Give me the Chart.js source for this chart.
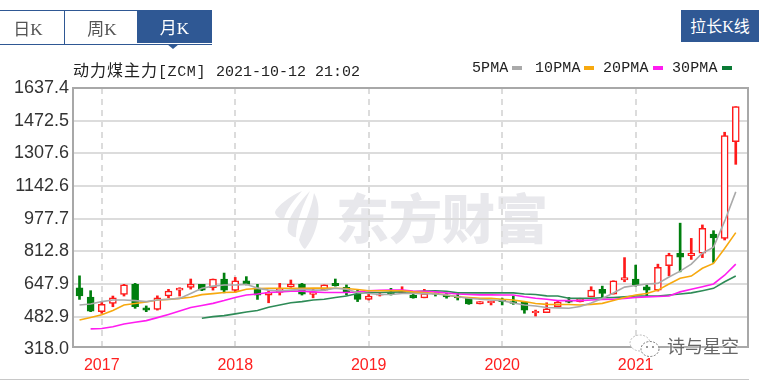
<!DOCTYPE html>
<html>
<head>
<meta charset="utf-8">
<title>动力煤主力</title>
<script src="https://cdn.jsdelivr.net/npm/chart.js@4"></script>
<style>
    html, body { margin: 0; padding: 0; background: #fff; }
    #wrap { position: relative; width: 765px; height: 380px; overflow: hidden; font-family: "Noto Sans CJK SC", sans-serif; }
    #wrap div, #wrap span.abs { position: absolute; }
    #chart { position: absolute; left: 0; top: 0; }
    .tab { top: 11px; height: 32px; line-height: 34px; text-align: center; font-size: 17px; color: #555; }
    .tab i, .btn i { font-style: normal; font-family: "Liberation Serif", serif; }
    .line { background: #2f5894; }
    .mono { font-family: "Liberation Mono", monospace; }
    .lg { top: 60px; font-size: 15px; line-height: 18px; color: #222; white-space: nowrap; letter-spacing: 0.1px; }
    .sw { top: 66px; width: 10px; height: 4px; }
</style>
</head>
<body>
<div id="wrap">
    <div id="mark" style="left:336px;top:178px;font-size:53px;line-height:76px;font-weight:900;color:#e8e8ec;white-space:nowrap;">东方财富</div>
    <svg style="position:absolute;left:272px;top:188px;" width="58" height="62" viewBox="0 0 58 62">
        <path d="M30 3 C18 8 5 18 3 24 C3 28 8 31 12 31 C14 22 22 12 30 3 Z" fill="#e8e8ec"/>
        <path d="M38 3 C24 18 14 32 16 44 C18 47 22 50 24 49 C24 32 32 16 38 3 Z" fill="#e8e8ec"/>
        <path d="M42 5 C40 20 30 40 27 52 C29 57 31 60 33 61 C44 48 52 22 42 5 Z" fill="#e8e8ec"/>
    </svg>
    <canvas id="chart" width="765" height="380"></canvas>

    <div class="line" style="left:0;top:10px;width:212px;height:1px;"></div>
    <div class="line" style="left:0;top:44px;width:212px;height:1px;"></div>
    <div class="line" style="left:64px;top:10px;width:1px;height:34px;"></div>
    <div class="tab" style="left:0;width:56px;">日<i>K</i></div>
    <div class="tab" style="left:65px;width:74px;">周<i>K</i></div>
    <div class="tab" style="left:137px;top:10px;width:75px;height:33px;background:#2f5894;color:#fff;">月<i>K</i></div>
    <div style="left:167px;top:44px;width:0;height:0;border-left:6px solid transparent;border-right:6px solid transparent;border-top:5px solid #2f5894;"></div>
    <div class="btn" style="left:681px;top:10px;width:78px;height:32px;line-height:31px;background:#2f5894;color:#fff;text-align:center;font-size:16px;">拉长<i>K</i>线</div>

    <div style="left:73px;top:59px;font-size:16px;letter-spacing:1px;line-height:20px;color:#222;white-space:nowrap;">动力煤主力<span class="mono" style="font-size:15px;letter-spacing:0.6px;">[ZCM]</span><span class="mono" style="font-size:15px;letter-spacing:0;margin-left:10px;">2021-10-12 21:02</span></div>

    <div class="lg mono" style="left:472px;">5PMA</div>
    <div class="sw" style="left:512px;background:#aaaaaa;"></div>
    <div class="lg mono" style="left:535px;">10PMA</div>
    <div class="sw" style="left:584px;background:#f7a90f;"></div>
    <div class="lg mono" style="left:603px;">20PMA</div>
    <div class="sw" style="left:653px;background:#ff1cf0;"></div>
    <div class="lg mono" style="left:672px;">30PMA</div>
    <div class="sw" style="left:722px;background:#0a7a35;"></div>

    <svg style="position:absolute;left:628px;top:333px;" width="34" height="26" viewBox="0 0 34 26">
        <ellipse cx="12" cy="10" rx="10" ry="8" fill="#fff" stroke="#bbb" stroke-dasharray="2 1.5"/>
        <ellipse cx="22" cy="16" rx="9" ry="7.5" fill="#fff" stroke="#777" stroke-dasharray="2 1.5"/>
        <circle cx="19" cy="14" r="1" fill="#777"/><circle cx="25" cy="14" r="1" fill="#777"/>
    </svg>
    <div style="left:667px;top:332px;font-size:18px;line-height:26px;color:#666;white-space:nowrap;text-shadow:0 0 2px #fff;">诗与星空</div>

    <div style="left:0;top:379px;width:749px;height:1px;background:#c8c8c8;"></div>
</div>

<script>
const yearPositions = [2, 14, 26, 38, 50];
const yearLabels = ['2017', '2018', '2019', '2020', '2021'];
const yTicks = [318.0, 482.9, 647.9, 812.8, 977.7, 1142.6, 1307.6, 1472.5, 1637.4];

// monthly candles, Nov 2016 .. Oct 2021
const opens = [629, 582, 508, 550, 595, 646, 528, 520, 587, 617, 631, 646, 629, 673, 615,
    664, 621, 592, 605, 634, 648, 595, 617, 651, 631, 597, 570, 592, 607, 605,
    592, 578, 602, 592, 587, 575, 547, 553, 569, 559, 556, 503, 503, 533, 564,
    559, 583, 621, 597, 668, 673, 634, 617, 740, 803, 791, 803, 900, 878, 1366];
const closes = [587, 511, 545, 578, 643, 533, 516, 578, 612, 627, 648, 617, 672, 617, 664,
    646, 592, 605, 626, 648, 597, 608, 643, 639, 605, 570, 587, 597, 597, 617,
    578, 600, 597, 583, 578, 547, 559, 561, 559, 550, 516, 510, 523, 557, 556,
    575, 617, 600, 664, 680, 643, 617, 732, 794, 783, 803, 929, 881, 1397, 1543];
const highs = [689, 614, 559, 587, 646, 651, 537, 588, 621, 629, 673, 646, 673, 703, 681,
    685, 646, 614, 651, 668, 651, 626, 643, 673, 643, 617, 600, 600, 626, 634,
    602, 621, 603, 602, 600, 580, 559, 561, 576, 587, 557, 516, 553, 561, 580,
    576, 634, 637, 664, 781, 743, 643, 748, 803, 955, 878, 946, 917, 1414, 1543];
const lows = [570, 508, 500, 533, 587, 525, 508, 516, 578, 587, 622, 614, 617, 603, 607,
    643, 570, 553, 592, 631, 592, 578, 614, 637, 592, 559, 567, 587, 592, 600,
    576, 578, 587, 576, 567, 545, 547, 542, 542, 545, 500, 486, 503, 532, 553,
    557, 583, 580, 597, 659, 637, 587, 612, 689, 709, 772, 781, 757, 870, 1252];

const ma5 = [542, 547, 559, 567, 567, 564, 559, 567, 571, 575, 600, 626, 637, 643, 643,
    646, 627, 617, 614, 617, 621, 617, 617, 626, 621, 605, 600, 595, 595, 600,
    600, 599, 597, 592, 583, 576, 571, 567, 564, 552, 542, 537, 529, 527, 525,
    534, 552, 575, 602, 632, 640, 648, 651, 683, 713, 748, 803, 834, 965, 1113];
const ma10 = [466, 479, 492, 514, 542, 549, 557, 567, 570, 575, 581, 594, 599, 605, 607,
    621, 625, 626, 626, 626, 626, 627, 627, 626, 625, 620, 614, 614, 614, 614,
    608, 604, 600, 592, 583, 579, 576, 575, 571, 567, 559, 549, 545, 544, 544,
    542, 545, 550, 564, 580, 592, 600, 617, 648, 677, 688, 727, 752, 827, 907];
const ma20 = [null, 421, 423, 432, 446, 455, 463, 478, 494, 511, 529, 539, 550, 564, 580,
    592, 597, 605, 608, 612, 612, 608, 605, 605, 605, 608, 614, 616, 617, 617,
    612, 611, 608, 602, 597, 595, 593, 593, 592, 592, 583, 576, 571, 564, 564,
    564, 567, 570, 571, 575, 580, 583, 585, 587, 608, 621, 634, 648, 692, 748];
const ma30 = [null, null, null, null, null, null, null, null, null, null, null, 475, 483, 488, 497,
    506, 514, 530, 542, 553, 559, 567, 571, 580, 587, 600, 605, 605, 607, 608,
    608, 612, 614, 611, 603, 603, 603, 603, 603, 603, 597, 595, 588, 587, 576,
    575, 576, 578, 580, 583, 587, 587, 587, 592, 597, 603, 614, 626, 659, 688];

const upColor = '#ff1a1a';
const downColor = '#007f0e';
const isUp = i => closes[i] >= opens[i];

function toLine(values) {
    return values.map((v, i) => ({ x: i, y: v }));
}

function lineDataset(label, values, color) {
    return {
        type: 'line',
        label: label,
        data: toLine(values),
        borderColor: color,
        borderWidth: 1.6,
        pointRadius: 0,
        tension: 0,
        order: 1
    };
}

const plotFrame = {
    id: 'plotFrame',
    afterDatasetsDraw(chart) {
        const a = chart.chartArea;
        const ctx = chart.ctx;
        ctx.save();
        ctx.strokeStyle = '#a8a8a8';
        ctx.lineWidth = 2;
        ctx.strokeRect(a.left, a.top, a.right - a.left, a.bottom - a.top);
        ctx.restore();
    }
};

new Chart(document.getElementById('chart'), {
    type: 'bar',
    data: {
        datasets: [
            lineDataset('5PMA', ma5, '#aaaaaa'),
            lineDataset('10PMA', ma10, '#f7a90f'),
            lineDataset('20PMA', ma20, '#ff1cf0'),
            lineDataset('30PMA', ma30, '#2e8b57'),
            {
                label: 'body',
                data: opens.map((o, i) => ({ x: i, y: [o, closes[i]] })),
                barThickness: 7,
                grouped: false,
                borderSkipped: false,
                borderWidth: 1.5,
                borderColor: ctx => isUp(ctx.dataIndex) ? upColor : downColor,
                backgroundColor: ctx => isUp(ctx.dataIndex) ? '#ffffff' : downColor,
                order: 2
            },
            {
                label: 'wick',
                data: lows.map((l, i) => ({ x: i, y: [l, highs[i]] })),
                barThickness: 2,
                grouped: false,
                borderWidth: 0,
                backgroundColor: ctx => isUp(ctx.dataIndex) ? upColor : downColor,
                order: 3
            }
        ]
    },
    options: {
        responsive: false,
        animation: false,
        layout: { autoPadding: false, padding: { top: 88, right: 17, left: 0, bottom: 0 } },
        plugins: { legend: { display: false }, tooltip: { enabled: false } },
        scales: {
            x: {
                type: 'linear',
                offset: false,
                min: -0.585,
                max: 60.1,
                afterBuildTicks: scale => { scale.ticks = yearPositions.map(v => ({ value: v })); },
                afterFit: scale => { scale.height = 33; },
                grid: {
                    offset: false,
                    color: '#dcdcdc',
                    lineWidth: 2,
                    drawTicks: false
                },
                border: { display: false, dash: [6, 5] },
                ticks: {
                    autoSkip: false,
                    maxRotation: 0,
                    padding: 9,
                    color: '#ff2020',
                    font: { family: '"Liberation Sans", Arial, sans-serif', size: 16 },
                    callback: v => yearLabels[yearPositions.indexOf(v)]
                }
            },
            y: {
                // the 318.0 label sits just under the frame in the original
                min: 329.7,
                max: 1637.4,
                afterBuildTicks: scale => { scale.ticks = yTicks.map(v => ({ value: v })); },
                afterFit: scale => { scale.width = 73; },
                grid: {
                    color: ctx => ctx.tick && ctx.tick.value === 318 ? 'rgba(0,0,0,0)' : '#dcdcdc',
                    lineWidth: 2,
                    drawTicks: false
                },
                border: { display: false },
                ticks: {
                    autoSkip: false,
                    padding: 4,
                    color: '#333333',
                    font: { family: '"Liberation Sans", Arial, sans-serif', size: 18 },
                    callback: v => v.toFixed(1)
                }
            }
        }
    },
    plugins: [plotFrame]
});
</script>
</body>
</html>
